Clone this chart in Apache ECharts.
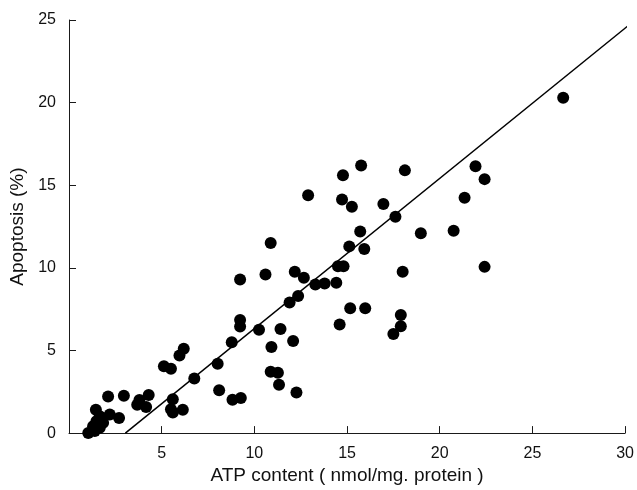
<!DOCTYPE html>
<html>
<head>
<meta charset="utf-8">
<script src="https://cdn.jsdelivr.net/npm/echarts@6/dist/echarts.min.js"></script>
<style>
html,body{margin:0;padding:0;background:#fff;}
#chart{width:637px;height:490px;}
</style>
</head>
<body>
<div id="chart"></div>
<script>
// ATP content (nmol/mg protein) for each sample
const atp = [
  1.04, 1.45, 2.11, 2.96, 3.80, 4.30, 3.68, 4.16, 2.70, 2.20, 1.66, 1.48, 1.84, 1.30, 1.66, 1.39,
  5.12, 5.50, 5.96, 6.19, 5.60, 5.50, 6.14, 5.60, 6.76,
  8.02, 8.10, 8.78, 8.82, 9.27,
  9.23, 9.23, 9.23, 10.25, 10.60, 10.88, 10.92, 10.88, 11.27, 11.33, 11.41, 11.90, 12.09, 12.18,
  12.27, 12.36, 12.67, 12.90, 13.29, 13.79, 14.42, 14.51, 14.81, 14.60, 14.73, 14.78,
  15.12, 15.17, 15.26, 15.71, 15.76, 15.93, 15.98, 16.96, 17.50, 17.61, 17.90, 17.90, 18.00,
  18.12, 18.98, 20.75, 21.34, 21.93, 22.42, 22.42, 26.66
];
// Apoptosis (%) for each sample
const apoptosis = [
  0.00, 1.42, 2.22, 2.26, 2.00, 2.30, 1.72, 1.58, 0.92, 1.12, 1.02, 0.72, 0.62, 0.42, 0.32, 0.12,
  4.05, 3.90, 4.70, 5.10, 2.05, 1.45, 1.42, 1.25, 3.30,
  4.20, 2.60, 5.50, 2.02, 2.12,
  9.30, 6.85, 6.45, 6.25, 9.60, 11.50, 5.21, 3.71, 3.65, 2.92, 6.30, 7.90, 5.57, 9.76,
  2.46, 8.30, 9.40, 14.40, 9.00, 9.06, 9.10, 10.10, 10.10, 6.57, 14.13, 15.60,
  11.30, 7.56, 13.70, 12.20, 16.20, 11.14, 7.56, 13.86, 6.00, 13.10, 7.15, 6.46, 9.76,
  15.90, 12.10, 12.24, 14.25, 16.15, 15.37, 10.06, 20.30
];
// Regression line end points
const fitX = [3.04, 30.4];
const fitY = [0, 24.87];

const xTicks = [0, 30, 5];   // min, max, interval
const yTicks = [0, 25, 5];

const points = atp.map((x, i) => [x, apoptosis[i]]);
const fitLine = fitX.map((x, i) => [x, fitY[i]]);

const chart = echarts.init(document.getElementById('chart'), null, {renderer: 'canvas'});
const axisColor = '#1a1a1a';
const font = 'Liberation Sans, Arial, Helvetica, sans-serif';
chart.setOption({
  animation: false,
  backgroundColor: '#ffffff',
  grid: {left: 69, right: 8, top: 20, bottom: 53, containLabel: false},
  xAxis: {
    type: 'value',
    min: xTicks[0], max: xTicks[1], interval: xTicks[2],
    name: 'ATP content ( nmol/mg. protein )',
    nameLocation: 'middle',
    nameGap: 30,
    nameTextStyle: {fontSize: 19, color: '#111', fontFamily: font},
    axisLine: {lineStyle: {color: axisColor, width: 1}},
    axisTick: {inside: true, length: 7, lineStyle: {color: axisColor}},
    axisLabel: {fontSize: 16, color: '#111', fontFamily: font, margin: 12,
      formatter: v => (v === 0 ? '' : String(v))},
    splitLine: {show: false}
  },
  yAxis: {
    type: 'value',
    min: yTicks[0], max: yTicks[1], interval: yTicks[2],
    name: 'Apoptosis (%)',
    nameLocation: 'middle',
    nameGap: 37,
    nameRotate: 90,
    nameTextStyle: {fontSize: 19, color: '#111', fontFamily: font},
    axisLine: {show: true, lineStyle: {color: axisColor, width: 1}},
    axisTick: {show: true, inside: true, length: 7, lineStyle: {color: axisColor}},
    axisLabel: {fontSize: 16, color: '#111', fontFamily: font, margin: 13},
    splitLine: {show: false}
  },
  series: [
    {
      type: 'line',
      data: fitLine,
      symbol: 'none',
      clip: false,
      lineStyle: {color: '#000', width: 1.5},
      z: 1
    },
    {
      type: 'scatter',
      data: points,
      symbol: 'circle',
      symbolSize: 12,
      itemStyle: {color: '#000', opacity: 1},
      z: 2
    }
  ]
});
</script>
</body>
</html>
